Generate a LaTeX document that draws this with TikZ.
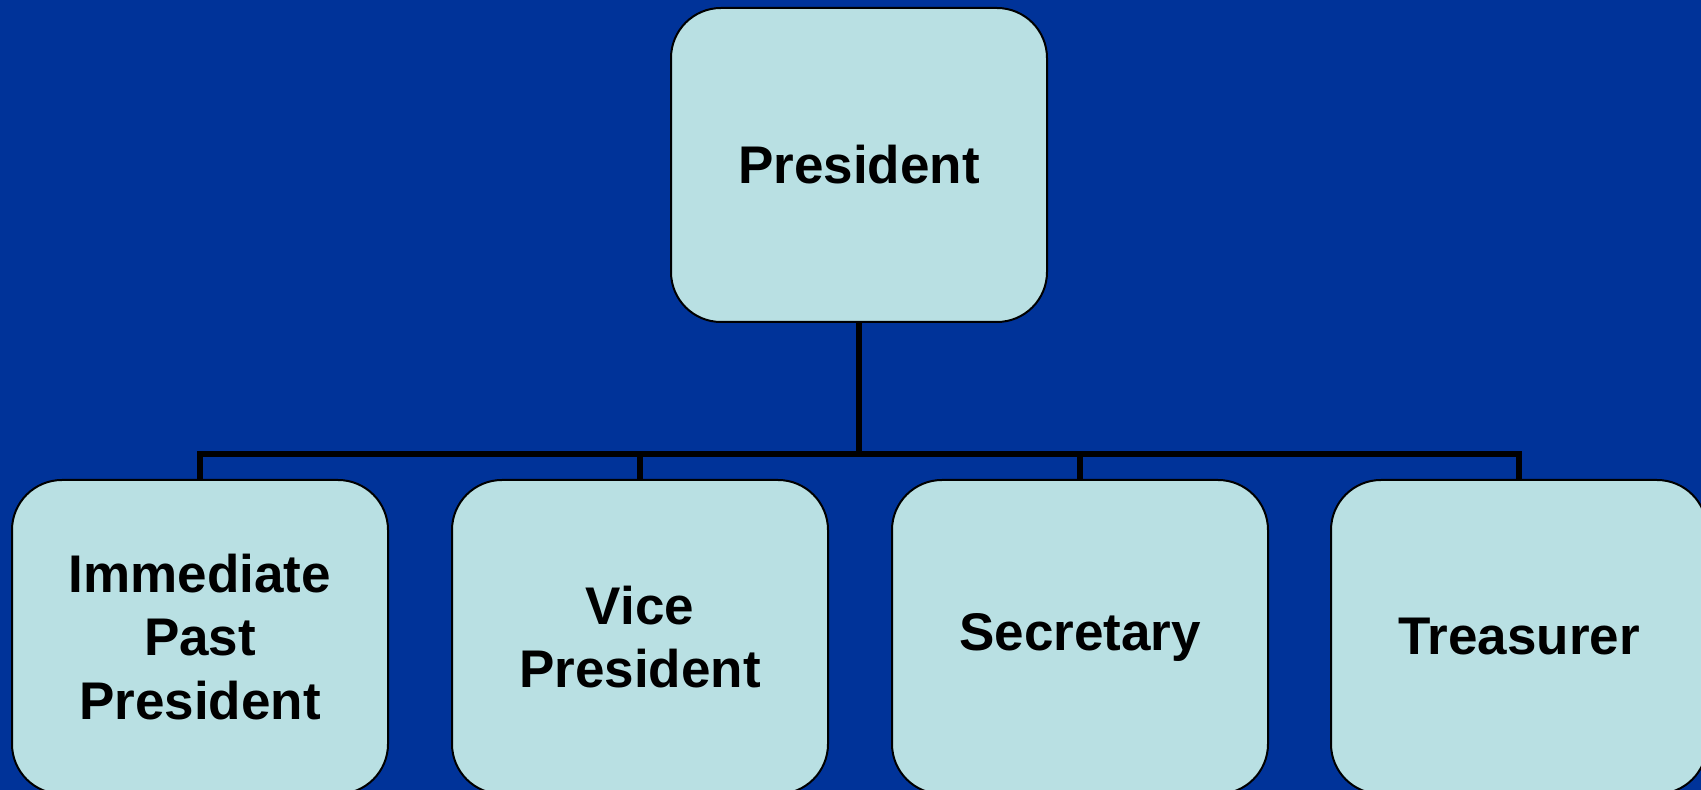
\documentclass[tikz,border=0pt]{standalone}
\usepackage{fontspec}
\setmainfont{Liberation Sans}
\usetikzlibrary{calc}
\definecolor{slideblue}{RGB}{0,51,153}
\definecolor{boxcyan}{RGB}{185,224,227}

\begin{document}
\begin{tikzpicture}
  [   x=1pt,y=1pt,
      obox/.style={draw=black,line width=2pt,fill=boxcyan,rounded corners=50pt,minimum width=376pt,minimum height=314pt,align=center,inner sep=0pt,font=\bfseries\fontsize{53}{63.5}\selectfont},
      link/.style={draw=black,line width=6pt},
  ]
    \fill[slideblue] (0,0) rectangle (1701,790);
    \useasboundingbox (0,0) rectangle (1701,790);
    \node[obox] (pres) at (859,625) {President};
    \foreach \x/\name/\txt in {200/ipp/{Immediate\\Past\\President},640/vp/{Vice\\President},1080/sec/Secretary,1519/tre/Treasurer}
    {   \node[obox] (\name) at (\x,153) {\txt};
        % drop from the president to each office
        \draw[link] (pres.south) |- ($(\name.north)+(0,25)$) -- (\name.north);
    }
\end{tikzpicture}
\end{document}
